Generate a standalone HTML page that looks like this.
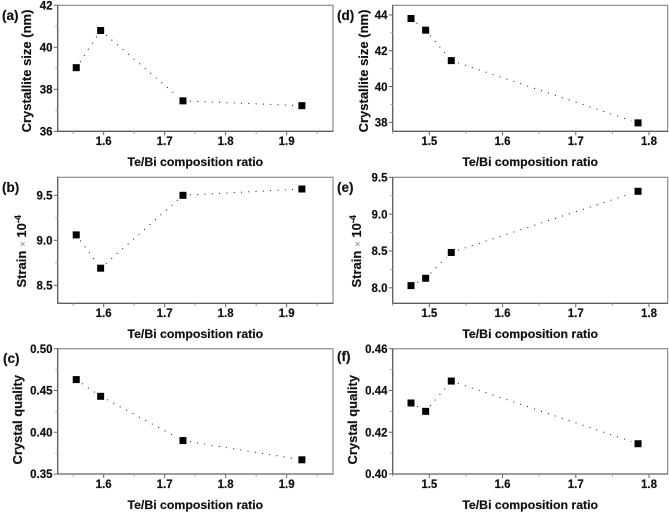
<!DOCTYPE html>
<html lang="en">
<head>
<meta charset="utf-8">
<title>Crystallite size, strain and crystal quality vs Te/Bi ratio</title>
<style>
html,body{margin:0;padding:0;background:#fff;}
body{width:669px;height:513px;overflow:hidden;}
svg{display:block;filter:blur(0.35px);}
text{font-family:"Liberation Sans",Arial,sans-serif;font-weight:bold;fill:#111;stroke:#111;stroke-width:0.18px;}
</style>
</head>
<body>
<svg id="figure" xmlns="http://www.w3.org/2000/svg" width="669" height="513" viewBox="0 0 669 513"></svg>
<script>
// Data
const ratioLeft = [1.555, 1.595, 1.73, 1.925];
const ratioRight = [1.475, 1.495, 1.53, 1.785];
const sizeA = [39.03, 40.8, 37.45, 37.22];
const strainB = [9.06, 8.69, 9.5, 9.57];
const qualityC = [0.463, 0.443, 0.39, 0.367];
const sizeD = [43.8, 43.15, 41.45, 37.97];
const strainE = [8.03, 8.13, 8.48, 9.31];
const qualityF = [0.434, 0.43, 0.4445, 0.4145];

// Tick labels
const xTicksLeft = ['1.6', '1.7', '1.8', '1.9'];
const xTicksRight = ['1.5', '1.6', '1.7', '1.8'];
const yTicksA = ['36', '38', '40', '42'];
const yTicksB = ['8.5', '9.0', '9.5'];
const yTicksC = ['0.35', '0.40', '0.45', '0.50'];
const yTicksD = ['38', '40', '42', '44'];
const yTicksE = ['8.0', '8.5', '9.0', '9.5'];
const yTicksF = ['0.40', '0.42', '0.44', '0.46'];

// Axis ranges
const xRangeLeft = [1.5246, 1.976];
const xRangeRight = [1.45, 1.8255];

const xTitle = 'Te/Bi composition ratio';
const NS = 'http://www.w3.org/2000/svg';
const svg = document.getElementById('figure');

const colLeft = {l: 57.7, r: 333, yl: 52.5};
const colRight = {l: 392.7, r: 667.7, yl: 387.5};
const rowTop = {t: 5.3, b: 131.3, tickY: 145, titleY: 166};
const rowMid = {t: 177.3, b: 303.3, tickY: 317, titleY: 338};
const rowBot = {t: 348.7, b: 474, tickY: 488, titleY: 509};

const panels = [
  {id: 'a', col: colLeft, row: rowTop, xs: ratioLeft, ys: sizeA, xt: xTicksLeft, yt: yTicksA, xr: xRangeLeft, yr: [36, 42], kind: 'size', lx: 2, ly: 20, tx: 27},
  {id: 'b', col: colLeft, row: rowMid, xs: ratioLeft, ys: strainB, xt: xTicksLeft, yt: yTicksB, xr: xRangeLeft, yr: [8.3, 9.7], kind: 'strain', lx: 2, ly: 192, tx: 22},
  {id: 'c', col: colLeft, row: rowBot, xs: ratioLeft, ys: qualityC, xt: xTicksLeft, yt: yTicksC, xr: xRangeLeft, yr: [0.35, 0.5], kind: 'quality', lx: 3, ly: 363, tx: 18},
  {id: 'd', col: colRight, row: rowTop, xs: ratioRight, ys: sizeD, xt: xTicksRight, yt: yTicksD, xr: xRangeRight, yr: [37.5, 44.54], kind: 'size', lx: 337, ly: 20, tx: 364},
  {id: 'e', col: colRight, row: rowMid, xs: ratioRight, ys: strainE, xt: xTicksRight, yt: yTicksE, xr: xRangeRight, yr: [7.79, 9.5], kind: 'strain', lx: 337, ly: 192, tx: 357},
  {id: 'f', col: colRight, row: rowBot, xs: ratioRight, ys: qualityF, xt: xTicksRight, yt: yTicksF, xr: xRangeRight, yr: [0.4, 0.46], kind: 'quality', lx: 337, ly: 361, tx: 353}
];

function make(tag, parent, attrs) {
  const node = document.createElementNS(NS, tag);
  for (const k in attrs) node.setAttribute(k, attrs[k]);
  parent.appendChild(node);
  return node;
}

function drawPanel(p) {
  const c = p.col, r = p.row;
  const xScale = v => c.l + (v - p.xr[0]) / (p.xr[1] - p.xr[0]) * (c.r - c.l);
  const yScale = v => r.b - (v - p.yr[0]) / (p.yr[1] - p.yr[0]) * (r.b - r.t);

  const g = make('g', svg, {});
  
  

  const frame = make('rect', g, {x: c.l, y: r.t, width: c.r - c.l, height: r.b - r.t, fill: 'none', stroke: '#8c8c8c', 'stroke-width': 1.2});
  
  

  const xAxis = make('line', g, {x1: c.l, x2: c.r, y1: r.b, y2: r.b, stroke: '#555', 'stroke-width': 1.1});
  
  

  const yAxis = make('line', g, {x1: c.l, x2: c.l, y1: r.t, y2: r.b, stroke: '#555', 'stroke-width': 1.1});
  
  

  // X ticks: major at labels, minor halfway between
  const xFirst = parseFloat(p.xt[0]);
  for (let i = -1; i < 2 * p.xt.length + 1; i++) {
    const v = xFirst + i * 0.05;
    const px = xScale(v);
    if (px < c.l || px > c.r) continue;
    const major = i % 2 === 0;
    const t = make('line', g, {x1: px, x2: px, y1: r.b, y2: r.b + (major ? 4 : 2.5), stroke: major ? '#666' : '#999', 'stroke-width': 1});
    
    
  }
  p.xt.forEach(label => {
    const t = make('text', g, {x: xScale(parseFloat(label)), y: r.tickY, 'text-anchor': 'middle', 'font-size': 11.5});
    t.textContent = label;
    
    
  });

  // Y ticks
  const yFirst = parseFloat(p.yt[0]);
  const yStep = parseFloat(p.yt[1]) - yFirst;
  for (let i = -2; i < 2 * p.yt.length + 2; i++) {
    const v = yFirst + i * yStep / 2;
    const py = yScale(v);
    if (py < r.t - 0.5 || py > r.b + 0.5) continue;
    const major = i % 2 === 0;
    const t = make('line', g, {x1: c.l, x2: c.l - (major ? 4 : 2.5), y1: py, y2: py, stroke: major ? '#666' : '#aaa', 'stroke-width': 1});
    
    
  }
  p.yt.forEach(label => {
    const t = make('text', g, {x: c.yl, y: yScale(parseFloat(label)) + 4.2, 'text-anchor': 'end', 'font-size': 11.5});
    t.textContent = label;
    
    
  });

  // Dotted connecting line, stopping short of each marker
  const gap = 7;
  for (let i = 0; i < p.xs.length - 1; i++) {
    const x1 = xScale(p.xs[i]), y1 = yScale(p.ys[i]);
    const x2 = xScale(p.xs[i + 1]), y2 = yScale(p.ys[i + 1]);
    const len = Math.hypot(x2 - x1, y2 - y1);
    if (len <= 2 * gap) continue;
    const ux = (x2 - x1) / len, uy = (y2 - y1) / len;
    const seg = make('line', g, {x1: x1 + ux * gap, y1: y1 + uy * gap, x2: x2 - ux * gap, y2: y2 - uy * gap, stroke: '#111', 'stroke-width': 1, 'stroke-dasharray': '1 6.3'});
    
    
  }

  // Square markers
  p.xs.forEach((xv, i) => {
    const size = 7;
    const m = make('rect', g, {x: xScale(xv) - size / 2, y: yScale(p.ys[i]) - size / 2, width: size, height: size, fill: '#000'});
    
    
  });

  // Axis titles
  const xt = make('text', g, {x: (c.l + c.r) / 2, y: r.titleY, 'text-anchor': 'middle', 'font-size': 12.3});
  xt.textContent = xTitle;
  
  

  const cy = p.kind === 'size' ? 71 : (p.kind === 'strain' ? r.t + 74 : r.t + 71);
  const yt = make('text', g, {x: 0, y: 0, 'text-anchor': 'middle', 'font-size': 13, transform: 'translate(' + (p.tx + 4) + ' ' + cy + ') rotate(-90)'});
  
  
  if (p.kind === 'size') {
    yt.textContent = 'Crystallite size (nm)';
  } else if (p.kind === 'quality') {
    yt.textContent = 'Crystal quality';
  } else {
    make('tspan', yt, {}).textContent = 'Strain ';
    make('tspan', yt, {'font-weight': 'normal', 'font-size': 10, style: 'fill:#888;stroke:none'}).textContent = '\u00d7';
    make('tspan', yt, {}).textContent = ' 10';
    make('tspan', yt, {'font-size': 9, dy: -5}).textContent = '-4';
  }

  const lab = make('text', g, {x: p.lx, y: p.ly, 'font-size': 13.5});
  lab.textContent = '(' + p.id + ')';
  
  
}

panels.forEach(drawPanel);
</script>
</body>
</html>
